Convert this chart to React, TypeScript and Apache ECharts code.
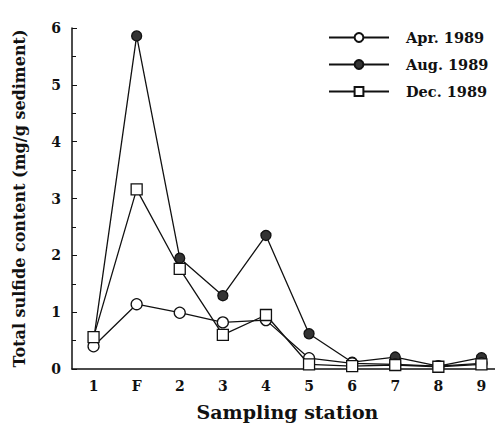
import React, { useEffect, useRef } from "react";
import * as echarts from "echarts";

const stations = ["1", "F", "2", "3", "4", "5", "6", "7", "8", "9"];
const apr1989 = [0.4, 1.14, 0.99, 0.82, 0.86, 0.19, 0.1, 0.08, 0.05, 0.1];
const aug1989 = [0.5, 5.86, 1.95, 1.29, 2.35, 0.62, 0.12, 0.21, 0.05, 0.2];
const dec1989 = [0.56, 3.16, 1.76, 0.6, 0.95, 0.08, 0.05, 0.07, 0.04, 0.08];
const seriesNames = ["Apr. 1989", "Aug. 1989", "Dec. 1989"];

const FONT = "DejaVu Serif";

export default function App() {
  const ref = useRef<HTMLDivElement>(null);
  useEffect(() => {
    if (!ref.current) return;
    const chart = echarts.init(ref.current, undefined, { renderer: "svg" });
    const lineStyle = { color: "#111", width: 1.3 };
    chart.setOption({
      animation: false,
      backgroundColor: "#fff",
      grid: { left: 72, right: 0, top: 28, bottom: 64, containLabel: false, outerBoundsMode: "none" },
      legend: {
        orient: "vertical",
        left: 323,
        top: 25,
        itemWidth: 60,
        itemHeight: 11,
        itemGap: 12,
        textStyle: { fontFamily: FONT, fontWeight: "bold", fontSize: 14.5, color: "#111", padding: [0, 0, 0, 12] },
        data: seriesNames,
      },
      xAxis: {
        type: "category",
        data: stations,
        boundaryGap: true,
        name: "Sampling station",
        nameLocation: "middle",
        nameGap: 33,
        nameTextStyle: { fontFamily: FONT, fontWeight: "bold", fontSize: 19, color: "#111" },
        axisLine: { lineStyle: { color: "#111", width: 1.5 } },
        axisTick: { alignWithLabel: true, inside: true, length: 4, lineStyle: { color: "#111" } },
        axisLabel: { fontFamily: FONT, fontWeight: "bold", fontSize: 14, color: "#111", margin: 10 },
        splitLine: { show: false },
      },
      yAxis: {
        type: "value",
        min: 0,
        max: 6,
        interval: 1,
        name: "Total sulfide content (mg/g sediment)",
        nameLocation: "middle",
        nameGap: 45,
        nameTextStyle: { fontFamily: FONT, fontWeight: "bold", fontSize: 16, color: "#111" },
        axisLine: { show: true, lineStyle: { color: "#111", width: 1.5 } },
        axisTick: { show: true, inside: true, length: 5, lineStyle: { color: "#111" } },
        minorTick: { show: true, splitNumber: 2, length: 4, lineStyle: { color: "#111" } },
        axisLabel: { fontFamily: FONT, fontWeight: "bold", fontSize: 14, color: "#111", margin: 11 },
        splitLine: { show: false },
      },
      series: [
        {
          name: seriesNames[0],
          type: "line",
          data: apr1989,
          symbol: "circle",
          symbolSize: 11,
          lineStyle,
          itemStyle: { color: "#fff", borderColor: "#111", borderWidth: 1.3 },
          z: 3,
        },
        {
          name: seriesNames[1],
          type: "line",
          data: aug1989,
          symbol: "circle",
          symbolSize: 10,
          lineStyle,
          itemStyle: { color: "#333", borderColor: "#111", borderWidth: 1.3 },
          z: 2,
        },
        {
          name: seriesNames[2],
          type: "line",
          data: dec1989,
          symbol: "rect",
          symbolSize: 11,
          lineStyle,
          itemStyle: { color: "#fff", borderColor: "#111", borderWidth: 1.3 },
          z: 4,
        },
      ],
    });
    return () => chart.dispose();
  }, []);
  return <div ref={ref} style={{ width: 503, height: 433, margin: -8 }} />;
}
